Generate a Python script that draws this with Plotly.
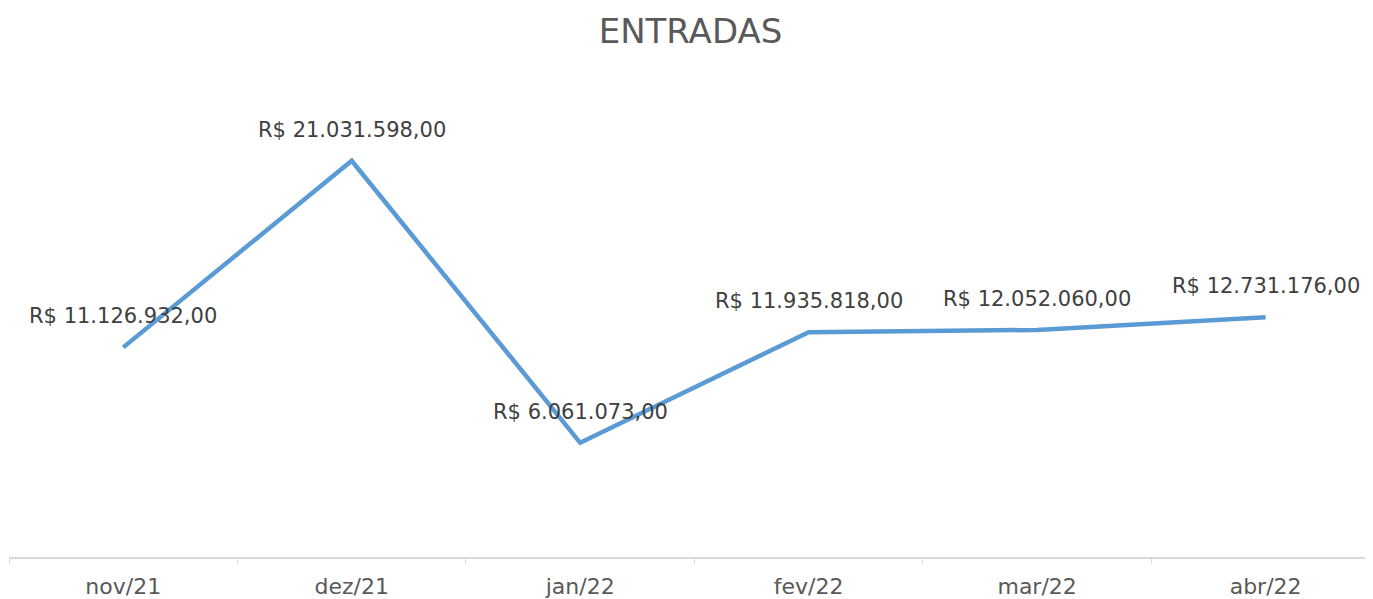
import plotly.graph_objects as go

categories = ["nov/21", "dez/21", "jan/22", "fev/22", "mar/22", "abr/22"]
values = [11126932.00, 21031598.00, 6061073.00, 11935818.00, 12052060.00, 12731176.00]
labels = ["R$ 11.126.932,00", "R$ 21.031.598,00", "R$ 6.061.073,00",
          "R$ 11.935.818,00", "R$ 12.052.060,00", "R$ 12.731.176,00"]

FONT = "DejaVu Sans"
TXT = "#595959"

# page body has an 8px margin, so the figure is shifted by 8px; compensate
W, H = 1365, 591

fig = go.Figure()
fig.add_trace(go.Scatter(
    x=categories, y=values, mode="lines",
    line=dict(color="#5B9BD5", width=4.5),
    hoverinfo="skip", showlegend=False,
))

for c, v, t in zip(categories, values, labels):
    fig.add_annotation(x=c, y=v, text=t, showarrow=False, yshift=31,
                       font=dict(family=FONT, size=21, color="#404040"))

fig.update_layout(
    width=W, height=H,
    margin=dict(l=1, r=0, t=78, b=40),
    paper_bgcolor="white", plot_bgcolor="white",
    title=dict(text="ENTRADAS", x=0.5, xanchor="center", y=1 - 23/H, yanchor="middle",
               font=dict(family=FONT, size=34, color=TXT)),
    xaxis=dict(type="category", range=[-0.5, 5.47], showgrid=False,
               showline=True, linecolor="#D9D9D9", linewidth=1.5,
               ticks="outside", tickson="boundaries", ticklen=5, tickcolor="#D9D9D9",
               tickfont=dict(family=FONT, size=22, color=TXT), ticklabelstandoff=9),
    yaxis=dict(range=[0, 25000000], visible=False, showgrid=False, zeroline=False),
)

fig.write_html("out.html")
